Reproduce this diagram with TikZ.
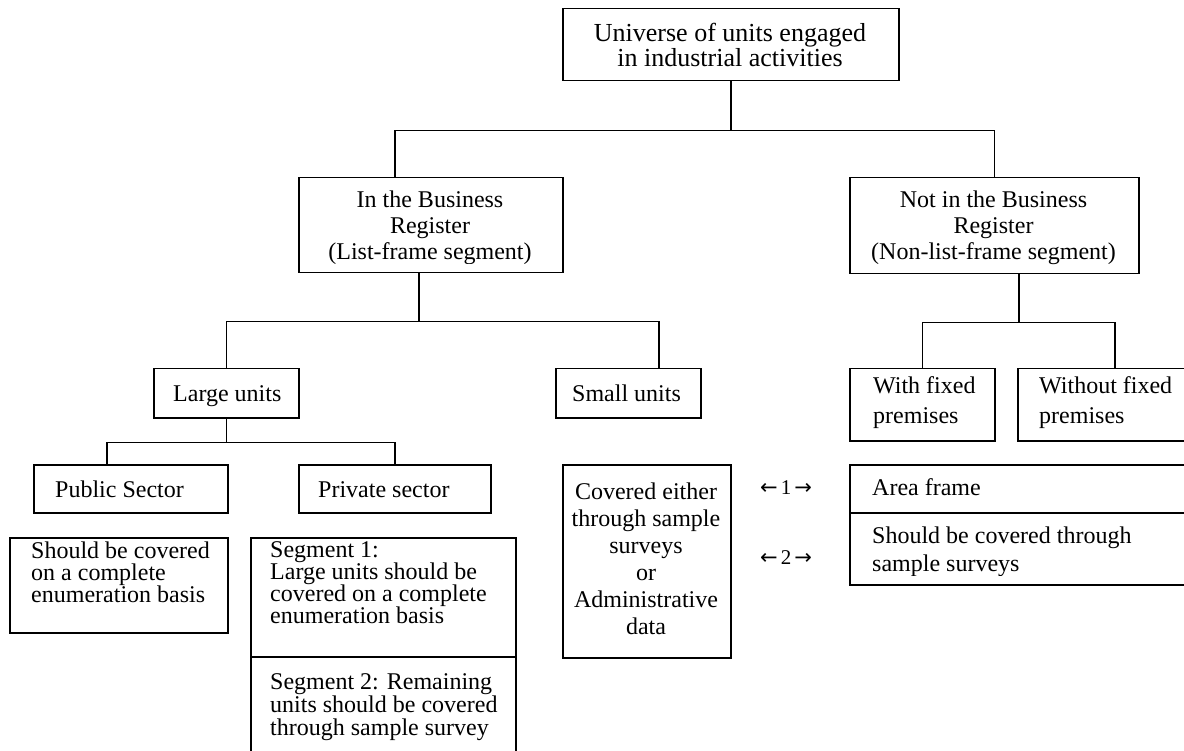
\documentclass[tikz,border=0pt]{standalone}
\usepackage{fontspec}
\setmainfont{Liberation Serif}
\newfontfamily\arrowfont{DejaVu Sans}
\newcommand{\la}{{\arrowfont ←}}
\newcommand{\ra}{{\arrowfont →}}
\begin{document}
\lineskiplimit=-50pt
\begin{tikzpicture}[x=1pt,y=-1pt,
  box/.style={draw, line width=1.5pt, inner sep=0pt, anchor=north west},
  link/.style={line width=1.5pt},
  txt/.style={inner sep=0pt, font=\fontsize{24}{#1}\selectfont},
  txt/.default=24,
]
\clip (0,0) rectangle (1184,751);

% boxes
\node[box, minimum width=336pt, minimum height=72pt]  (top)     at (562,8)   {};
\node[box, minimum width=264pt, minimum height=95pt]  (inb)     at (298,177) {};
\node[box, minimum width=289pt, minimum height=96pt]  (notb)    at (849,177) {};
\node[box, minimum width=145pt, minimum height=49pt]  (large)   at (153,368) {};
\node[box, minimum width=145pt, minimum height=49pt]  (small)   at (555,368) {};
\node[box, minimum width=145pt, minimum height=72pt]  (withf)   at (849,368) {};
\node[box, minimum width=194pt, minimum height=72pt]  (without) at (1017,368) {};
\node[box, minimum width=194pt, minimum height=48pt]  (public)  at (33,464)  {};
\node[box, minimum width=192pt, minimum height=48pt]  (private) at (298,464) {};
\node[box, minimum width=218pt, minimum height=95pt]  (pubnote) at (9,537)   {};
\node[box, minimum width=265pt, minimum height=119pt] (seg1)    at (250,537) {};
\node[box, minimum width=265pt, minimum height=130pt] (seg2)    at (250,656) {};
\node[box, minimum width=168pt, minimum height=193pt] (covered) at (562,464) {};
\node[box, minimum width=350pt, minimum height=48pt]  (area)    at (849,464) {};
\node[box, minimum width=350pt, minimum height=72pt]  (areanote) at (849,512) {};

% elbow connectors
\draw[link] (top.south) -- ++(0,49) -| ([xshift=-36pt]inb.north);
\draw[link] (top.south) -- ++(0,49) -| (notb.north);
\draw[link] ([xshift=-12pt]inb.south) -- ++(0,48) -| (large.north);
\draw[link] ([xshift=-12pt]inb.south) -- ++(0,48) -| ([xshift=30.5pt]small.north);
\draw[link] ([xshift=24.5pt]notb.south) -- ++(0,48) -| (withf.north);
\draw[link] ([xshift=24.5pt]notb.south) -- ++(0,48) -| (without.north);
\draw[link] (large.south) -- ++(0,24) -| ([xshift=-24pt]public.north);
\draw[link] (large.south) -- ++(0,24) -| (private.north);

% texts (base anchor sits on the last line)
\node[inner sep=0pt, font=\fontsize{26}{25}\selectfont, align=center, anchor=base] (ttop) at (730,67) {Universe of units engaged\\in industrial activities};
\begin{scope}
  \clip (inb.north west) rectangle ([yshift=10pt]inb.south east);
  \node[txt=26, align=center, anchor=base] (tinb) at (430,260) {In the Business\\Register\\(List-frame segment)};
\end{scope}
\begin{scope}
  \clip (notb.north west) rectangle ([yshift=10pt]notb.south east);
  \node[txt=26, align=center, anchor=base] (tnotb) at (993.5,260) {Not in the Business\\Register\\(Non-list-frame segment)};
\end{scope}
\node[txt, anchor=base west] (tlarge) at (173,402) {Large units};
\node[txt, anchor=base west] (tsmall) at (572,402) {Small units};
\begin{scope}
  \clip (withf.north west) rectangle ([yshift=10pt]withf.south east);
  \node[txt=29, align=left, anchor=base west] (twithf) at (873,423) {With fixed\\premises};
\end{scope}
\begin{scope}
  \clip (without.north west) rectangle ([yshift=10pt]without.south east);
  \node[txt=29, align=left, anchor=base west] (twithout) at (1039,423) {Without fixed\\premises};
\end{scope}
\node[txt, anchor=base west] (tpublic) at (55,497) {Public Sector};
\node[txt, anchor=base west] (tprivate) at (318,497) {Private sector};
\node[txt=21.7, align=left, anchor=base west] (tpubnote) at (31,602) {Should be covered\\on a complete\\enumeration basis};
\node[txt=22, align=left, anchor=base west] (tseg1) at (270,623) {Segment 1:\\Large units should be\\covered on a complete\\enumeration basis};
\begin{scope}
  \clip (seg2.north west) rectangle (seg2.east |- 0,740);
  \node[txt=23, align=left, anchor=base west] (tseg2) at (270,735) {Segment 2: Remaining\\units should be covered\\through sample survey};
\end{scope}
\node[txt=27, align=center, anchor=base] (tcovered) at (646,634) {Covered either\\through sample\\surveys\\or\\Administrative\\data};
\node[txt, anchor=base west] (tarea) at (872,495) {Area frame};
\begin{scope}
  \clip (areanote.north west) rectangle ([yshift=10pt]areanote.south east);
  \node[txt=28, align=left, anchor=base west] (tareanote) at (872,571) {Should be covered through\\sample surveys};
\end{scope}

% numbered correspondences between the two coverage columns
\node[inner sep=0pt, font=\fontsize{21}{21}\selectfont] (pair1) at (786,488) {\la\hspace{3pt}1\hspace{3pt}\ra};
\node[inner sep=0pt, font=\fontsize{21}{21}\selectfont] (pair2) at (786,558) {\la\hspace{3pt}2\hspace{3pt}\ra};
\end{tikzpicture}
\end{document}
